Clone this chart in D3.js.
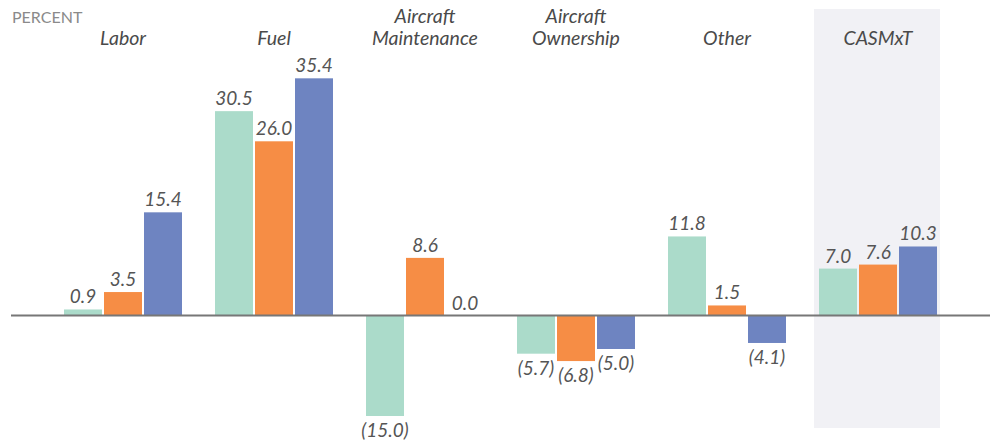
<!DOCTYPE html>
<html>
<head>
<meta charset="utf-8">
<script src="https://cdn.jsdelivr.net/npm/d3@7"></script>
<style>
  html, body { margin: 0; padding: 0; background: #fff; }
  svg { display: block; }
  text { font-family: Lato, "Open Sans", sans-serif; }
</style>
</head>
<body>
<svg id="chart" width="990" height="447"></svg>
<script>
// Cost categories (multi-line labels split on "\n")
const categories = ["Labor", "Fuel", "Aircraft\nMaintenance", "Aircraft\nOwnership", "Other", "CASMxT"];
const seriesNames = ["s1", "s2", "s3"];
const seriesColors = ["#abdbca", "#f68d45", "#6e84c1"];

// Percent change per category, one array per series
const series1 = [0.9, 30.5, -15.0, -5.7, 11.8, 7.0];
const series2 = [3.5, 26.0, 8.6, -6.8, 1.5, 7.6];
const series3 = [15.4, 35.4, 0.0, -5.0, -4.1, 10.3];
const seriesValues = [series1, series2, series3];

const highlightCategory = "CASMxT";
const axisTitle = "PERCENT";

const svg = d3.select("#chart");
const W = 990, H = 447;

const x = d3.scaleBand().domain(categories).range([47.5, 953.5]).padding(0);
const xInner = d3.scaleBand().domain(seriesNames).range([-59, 59]).paddingInner(0.05).paddingOuter(0);
const y = d3.scaleLinear().domain([-16, 40]).range([422.7, 47.5]);

const fmt = v => v < 0 ? "(" + d3.format(".1f")(-v) + ")" : d3.format(".1f")(v);

// Highlight band behind the total column
svg.append("rect")
  .attr("x", x(highlightCategory) + x.bandwidth() / 2 - 64)
  .attr("width", 126)
  .attr("y", 9)
  .attr("height", 419)
  .attr("fill", "#f1f1f5");

// Flatten into one record per bar
const bars = [];
categories.forEach((c, i) => {
  seriesNames.forEach((s, j) => {
    bars.push({ cat: c, ser: s, idx: j, value: seriesValues[j][i] });
  });
});

const cx = d => x(d.cat) + x.bandwidth() / 2 + xInner(d.ser);

svg.append("g").selectAll("rect")
  .data(bars)
  .join("rect")
  .attr("x", cx)
  .attr("width", xInner.bandwidth())
  .attr("y", d => d.value >= 0 ? y(d.value) : y(0))
  .attr("height", d => Math.abs(y(d.value) - y(0)))
  .attr("fill", d => seriesColors[d.idx]);

// Zero baseline
svg.append("line")
  .attr("x1", 11).attr("x2", W)
  .attr("y1", y(0)).attr("y2", y(0))
  .attr("stroke", "#777").attr("stroke-width", 2);

// Value labels
svg.append("g").selectAll("text")
  .data(bars)
  .join("text")
  .attr("x", d => cx(d) + xInner.bandwidth() / 2)
  .attr("y", d => d.value >= 0 ? y(d.value) - 6 : y(d.value) + 21)
  .attr("text-anchor", "middle")
  .attr("font-size", 19)
  .attr("font-style", "italic")
  .attr("fill", "#555")
  .text(d => fmt(d.value));

// Category labels
const catG = svg.append("g");
categories.forEach(c => {
  const lines = c.split("\n");
  const t = catG.append("text")
    .attr("x", x(c) + x.bandwidth() / 2)
    .attr("text-anchor", "middle")
    .attr("font-size", 19.5)
    .attr("font-style", "italic")
    .attr("fill", "#4a4a4a");
  lines.forEach((ln, k) => {
    t.append("tspan")
      .attr("x", x(c) + x.bandwidth() / 2)
      .attr("y", 45 - (lines.length - 1 - k) * 22)
      .text(ln);
  });
});

// Axis title
svg.append("text")
  .attr("x", 12).attr("y", 23)
  .attr("font-size", 16)
  .attr("fill", "#8a8a8a")
  .text(axisTitle);
</script>
</body>
</html>
